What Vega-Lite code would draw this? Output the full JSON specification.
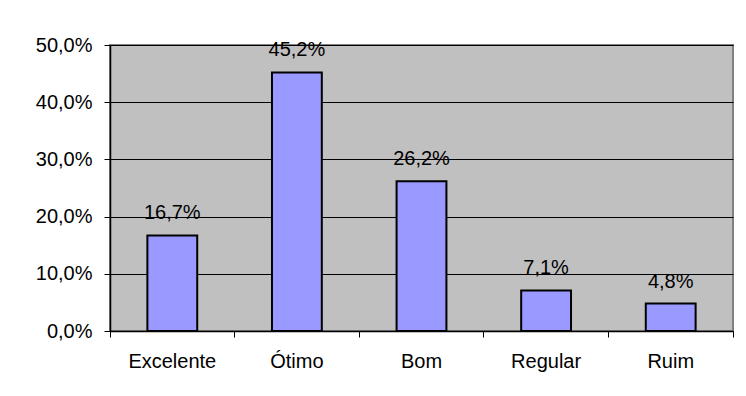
{
  "$schema": "https://vega.github.io/schema/vega-lite/v6.json",
  "autosize": "none",
  "width": 623,
  "height": 286,
  "padding": {"left": 110, "top": 45, "right": 13, "bottom": 65},
  "background": "#ffffff",
  "config": {
    "locale": {"number": {"decimal": ",", "thousands": ".", "grouping": [3], "currency": ["R$", ""]}},
    "font": "Liberation Sans",
    "view": {"fill": "#C0C0C0", "stroke": "#808080", "strokeWidth": 2},
    "axis": {"labelFont": "Liberation Sans", "labelColor": "#000000", "labelFontSize": 20, "domainColor": "#000000", "tickColor": "#000000", "title": null, "labelOverlap": false}
  },
  "data": {
    "values": [
      {"categoria": "Excelente", "valor": 0.167},
      {"categoria": "Ótimo", "valor": 0.452},
      {"categoria": "Bom", "valor": 0.262},
      {"categoria": "Regular", "valor": 0.071},
      {"categoria": "Ruim", "valor": 0.048}
    ]
  },
  "encoding": {
    "x": {
      "field": "categoria", "type": "nominal", "sort": null,
      "scale": {"paddingInner": 0, "paddingOuter": 0},
      "axis": {"labelAngle": 0, "ticks": true, "bandPosition": 1, "tickExtra": true, "labelOffset": 0.01, "tickSize": 6, "tickWidth": 1, "tickColor": "#000000", "labelPadding": 14, "domainWidth": 1.5, "grid": false}
    },
    "y": {
      "field": "valor", "type": "quantitative",
      "scale": {"domain": [0, 0.5]},
      "axis": {"format": ".1%", "values": [0, 0.1, 0.2, 0.3, 0.4, 0.5], "grid": true, "gridColor": "#000000", "gridOpacity": 1, "gridWidth": 1, "tickSize": 6, "labelPadding": 12, "domainWidth": 1.5, "labelOverlap": false}
    }
  },
  "layer": [
    {"mark": {"type": "bar", "color": "#9999FF", "stroke": "#000000", "strokeWidth": 2, "width": {"band": 0.4}}},
    {"mark": {"type": "text", "baseline": "alphabetic", "dy": -16, "fontSize": 20, "color": "#000000"},
     "encoding": {"text": {"field": "valor", "type": "quantitative", "format": ".1%"}}}
  ]
}
